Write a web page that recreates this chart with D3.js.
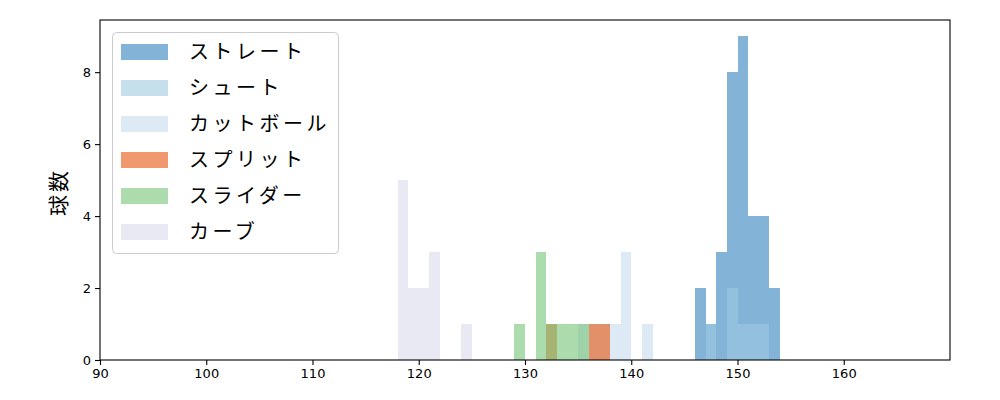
<!DOCTYPE html>
<html>
<head>
<meta charset="utf-8">
<script src="https://cdnjs.cloudflare.com/ajax/libs/d3/7.8.5/d3.min.js"></script>
<style>
  body { margin: 0; background: #fff; }
  svg { display: block; font-family: "Noto Sans CJK JP", "DejaVu Sans", sans-serif; }
</style>
</head>
<body>
<div id="chart"></div>
<script>
// pitch types, in drawing order
const pitchNames = ['ストレート', 'シュート', 'カットボール', 'スプリット', 'スライダー', 'カーブ'];
const pitchColors = ['#3182bd', '#9ecae1', '#c6dbef', '#e6550d', '#74c476', '#dadaeb'];

// speed bin (km/h, 1 wide) and pitch count per bin
const straightSpeeds = [146, 147, 148, 149, 150, 151, 152, 153];
const straightCounts = [2, 1, 3, 8, 9, 4, 4, 2];
const shootSpeeds = [147, 149, 150, 151, 152];
const shootCounts = [1, 2, 1, 1, 1];
const cutSpeeds = [135, 136, 137, 138, 139, 141];
const cutCounts = [1, 1, 1, 1, 3, 1];
const splitSpeeds = [132, 136, 137];
const splitCounts = [1, 1, 1];
const sliderSpeeds = [129, 131, 132, 133, 134, 135];
const sliderCounts = [1, 3, 1, 1, 1, 1];
const curveSpeeds = [118, 119, 120, 121, 124];
const curveCounts = [5, 2, 2, 3, 1];

const xTicks = [90, 100, 110, 120, 130, 140, 150, 160];
const yTicks = [0, 2, 4, 6, 8];

(function(){
    const width = 1000, height = 400;
    const left = 100, right = 950, top = 20, bottom = 360;

    const series = [
        [straightSpeeds, straightCounts],
        [shootSpeeds, shootCounts],
        [cutSpeeds, cutCounts],
        [splitSpeeds, splitCounts],
        [sliderSpeeds, sliderCounts],
        [curveSpeeds, curveCounts]
    ].map((s, i) => ({
        name: pitchNames[i],
        color: pitchColors[i],
        bins: s[0].map((v, j) => ({x0: v, x1: v + 1, n: s[1][j]}))
    }));

    const x = d3.scaleLinear().domain([90, 170]).range([left, right]);
    const y = d3.scaleLinear().domain([0, 9.45]).range([bottom, top]);

    const svg = d3.select('#chart').append('svg')
        .attr('width', width)
        .attr('height', height);

    svg.append('rect').attr('width', width).attr('height', height).attr('fill', '#fff');

    // bars, one layer per pitch type
    series.forEach(s => {
        svg.append('g')
            .attr('fill', s.color)
            .attr('fill-opacity', 0.6)
            .selectAll('rect')
            .data(s.bins)
            .enter()
            .append('rect')
            .attr('x', d => Math.round(x(d.x0)))
            .attr('width', d => Math.round(x(d.x1)) - Math.round(x(d.x0)))
            .attr('y', d => Math.round(y(d.n)))
            .attr('height', d => Math.round(y(0)) - Math.round(y(d.n)))
            .attr('shape-rendering', 'crispEdges');
    });

    // axes
    const xAxis = svg.append('g')
        .attr('transform', `translate(0,${bottom})`)
        .call(d3.axisBottom(x).tickValues(xTicks).tickSizeOuter(0).tickSize(5).tickPadding(4));
    const yAxis = svg.append('g')
        .attr('transform', `translate(${left},0)`)
        .call(d3.axisLeft(y).tickValues(yTicks).tickSizeOuter(0).tickSize(5).tickPadding(4));

    [xAxis, yAxis].forEach(a => {
        a.select('.domain').remove();
        a.selectAll('line').attr('stroke', '#000').attr('stroke-width', 1.1);
        a.selectAll('text').attr('fill', '#000').style('font-size', '13px')
            .style('font-family', '"DejaVu Sans", sans-serif');
    });

    // frame
    svg.append('rect')
        .attr('x', left).attr('y', top)
        .attr('width', right - left).attr('height', bottom - top)
        .attr('fill', 'none').attr('stroke', '#000').attr('stroke-width', 1.1);

    // y label
    svg.append('text')
        .attr('transform', `translate(66,${(top + bottom) / 2 + 2}) rotate(-90)`)
        .attr('text-anchor', 'middle')
        .style('font-size', '21px')
        .style('letter-spacing', '3px')
        .text('球数');

    // legend
    const lg = svg.append('g');
    lg.append('rect')
        .attr('x', 112.5).attr('y', 32.5)
        .attr('width', 226).attr('height', 221)
        .attr('rx', 4)
        .attr('fill', '#fff').attr('fill-opacity', 0.8)
        .attr('stroke', '#ccc');

    const item = lg.selectAll('g.item')
        .data(series)
        .enter()
        .append('g')
        .attr('class', 'item')
        .attr('transform', (d, i) => `translate(0,${52 + i * 36})`);

    item.append('rect')
        .attr('x', 121).attr('y', -8)
        .attr('width', 47).attr('height', 16)
        .attr('fill', d => d.color)
        .attr('fill-opacity', 0.6);

    item.append('text')
        .attr('x', 189).attr('y', 0)
        .attr('dy', '0.36em')
        .style('font-size', '20px')
        .style('letter-spacing', '3.5px')
        .text(d => d.name);
})();
</script>
</body>
</html>
